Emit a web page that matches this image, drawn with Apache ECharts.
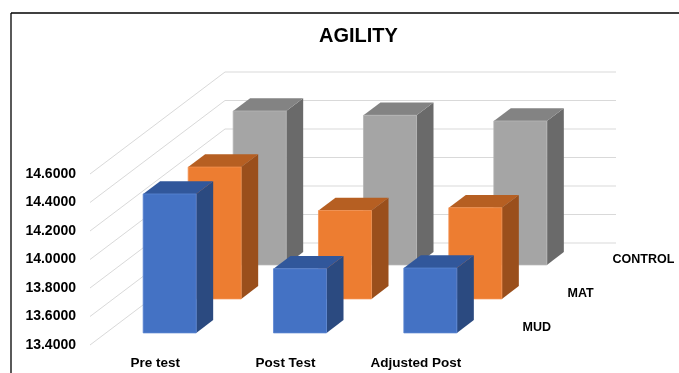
<!DOCTYPE html>
<html><head><meta charset="utf-8">
<script src="https://cdn.jsdelivr.net/npm/echarts@6/dist/echarts.min.js"></script>
<style>html,body{margin:0;padding:0;background:#fff}#c{width:679px;height:373px}</style>
</head><body><div id="c"></div>
<script>
const categories = ['Pre test', 'Post Test', 'Adjusted Post'];
const seriesNames = ['MUD', 'MAT', 'CONTROL'];
const mud = [14.375, 13.85, 13.855];
const mat = [14.325, 14.02, 14.04];
const control = [14.48, 14.45, 14.41];
const Y_MIN = 13.4, Y_MAX = 14.6, Y_STEP = 0.2;
const yTicks = [13.4, 13.6, 13.8, 14.0, 14.2, 14.4, 14.6];

const DX = 135, DY = -102;
const FONT = '"Liberation Sans", Arial, sans-serif';
const palette = [
  { front: '#4472C4', edge: '#5A85D2', top: '#31579B', side: '#2B4A80' },
  { front: '#ED7D31', edge: '#F39250', top: '#B65F22', side: '#9A4F1C' },
  { front: '#A5A5A5', edge: '#B5B5B5', top: '#838383', side: '#6A6A6A' }
];

function barRenderer(row) {
  const col = palette[row];
  return function (params, api) {
    const c = api.value(0), v = api.value(1);
    const slot = api.size([1, 0])[0];
    const pTop = api.coord([c, v]);
    const pBase = api.coord([c, Y_MIN]);
    const t0 = (row + 0.356) / 3, t1 = (row + 0.733) / 3;
    const w = slot * 0.407;
    const cx = pTop[0] - 1.5;
    const fx0 = cx - w / 2 + t0 * DX, fx1 = cx + w / 2 + t0 * DX;
    const fyT = pTop[1] + t0 * DY, fyB = pBase[1] + t0 * DY;
    const bdx = (t1 - t0) * DX, bdy = (t1 - t0) * DY;
    return {
      type: 'group',
      children: [
        { type: 'polygon', shape: { points: [[fx1, fyT], [fx1 + bdx, fyT + bdy], [fx1 + bdx, fyB + bdy], [fx1, fyB]] }, style: { fill: col.side } },
        { type: 'polygon', shape: { points: [[fx0, fyT], [fx1, fyT], [fx1 + bdx, fyT + bdy], [fx0 + bdx, fyT + bdy]] }, style: { fill: col.top } },
        { type: 'polygon', shape: { points: [[fx0, fyT], [fx1, fyT], [fx1, fyB], [fx0, fyB]] }, style: { fill: col.front, stroke: col.edge, lineWidth: 0.8 } }
      ]
    };
  };
}

function gridRenderer(params, api) {
  const cs = params.coordSys;
  const v = api.value(1);
  const y = api.coord([0, v])[1];
  const x0 = cs.x, x1 = cs.x + cs.width;
  return {
    type: 'group',
    children: [
      { type: 'line', shape: { x1: x0, y1: y, x2: x0 + DX, y2: y + DY }, style: { stroke: '#D9D9D9', lineWidth: 1 } },
      { type: 'line', shape: { x1: x0 + DX, y1: y + DY, x2: x1 + DX, y2: y + DY }, style: { stroke: '#D9D9D9', lineWidth: 1 } }
    ]
  };
}

function depthLabelRenderer(params, api) {
  const cs = params.coordSys;
  const row = api.value(2);
  const yb = api.coord([0, Y_MIN])[1];
  const t = (row + 0.5) / 3;
  return {
    type: 'text',
    style: {
      text: seriesNames[row], x: cs.x + cs.width + t * DX + 19, y: yb + t * DY,
      fill: '#000', font: 'bold 12.5px ' + FONT, align: 'left', verticalAlign: 'middle'
    }
  };
}

const chart = echarts.init(document.getElementById('c'), null, { renderer: 'canvas' });
const seriesData = [mud, mat, control];
const series = [
  { type: 'custom', renderItem: gridRenderer, silent: true, data: yTicks.map(v => [0, v]), z: 1 },
  { type: 'custom', renderItem: depthLabelRenderer, silent: true, data: seriesNames.map((n, i) => [0, Y_MIN, i]), z: 1 }
];
for (let row = 2; row >= 0; row--) {
  series.push({
    type: 'custom', name: seriesNames[row], renderItem: barRenderer(row), silent: true,
    data: seriesData[row].map((v, i) => [i, v]), z: 2 + (2 - row)
  });
}

chart.setOption({
  animation: false,
  backgroundColor: '#fff',
  title: { text: 'AGILITY', left: 314, top: 21, textStyle: { fontFamily: FONT, fontWeight: 'bold', fontSize: 20, color: '#000' } },
  grid: { left: 90, right: 198, top: 174, bottom: 28, containLabel: false },
  xAxis: {
    type: 'category', data: categories,
    axisLine: { show: false }, axisTick: { show: false }, splitLine: { show: false },
    axisLabel: { margin: 11, color: '#000', fontFamily: FONT, fontWeight: 'bold', fontSize: 13.5 }
  },
  yAxis: {
    type: 'value', min: Y_MIN, max: Y_MAX, interval: Y_STEP,
    axisLine: { show: false }, axisTick: { show: false }, splitLine: { show: false },
    axisLabel: { margin: 14, color: '#000', fontFamily: FONT, fontWeight: 'bold', fontSize: 14, formatter: v => v.toFixed(4) }
  },
  graphic: [
    { type: 'line', shape: { x1: 11, y1: 13, x2: 679, y2: 13 }, style: { stroke: '#000', lineWidth: 1.3 } },
    { type: 'line', shape: { x1: 11, y1: 13, x2: 11, y2: 373 }, style: { stroke: '#000', lineWidth: 1.3 } }
  ],
  series: series
});
</script></body></html>
